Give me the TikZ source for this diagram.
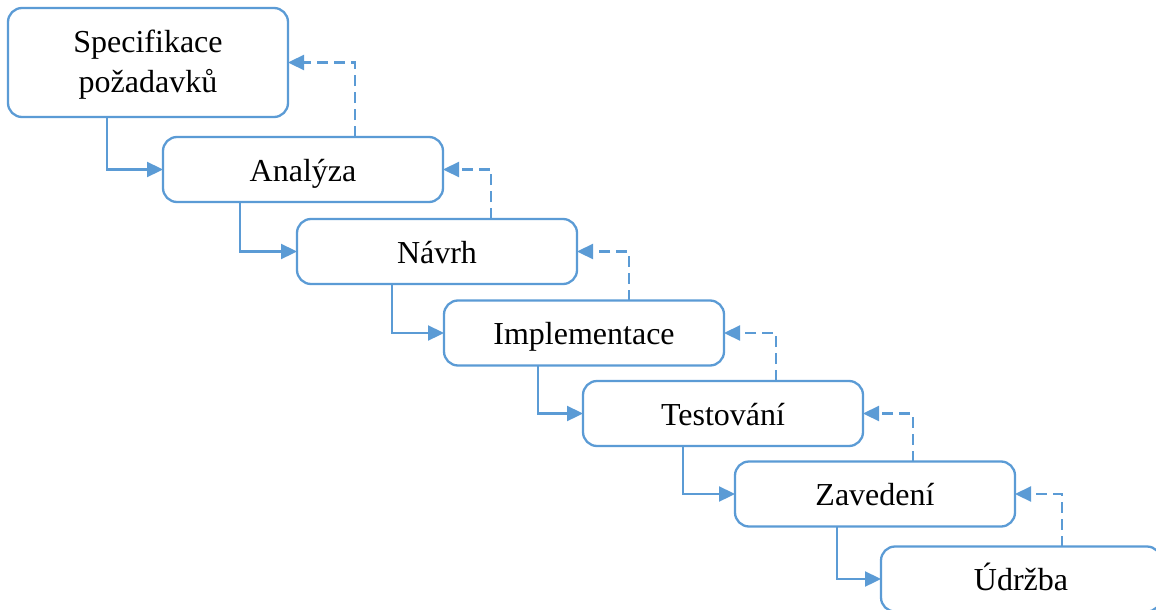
\documentclass[tikz,border=0pt]{standalone}
\usepackage{fontspec}
\setmainfont{Liberation Serif}
\usetikzlibrary{arrows.meta}
\definecolor{phaseblue}{RGB}{91,155,213}
\begin{document}
\begin{tikzpicture}[x=1pt,y=-1pt,
  phase/.style={draw=phaseblue, line width=2.3pt, rounded corners=14pt, fill=white,
    minimum width=280pt, minimum height=65pt, inner sep=0pt, outer sep=0pt,
    text height=26pt, text depth=3pt,
    align=center, font=\fontsize{32}{40}\selectfont},
  flow/.style={draw=phaseblue, line width=2.3pt, -{Triangle[length=16pt,width=15pt]}},
  back/.style={flow, dash pattern=on 11pt off 6pt}]
\useasboundingbox (0,0) rectangle (1156,610);
\clip (0,0) rectangle (1156,610);

% phases of the waterfall
\node[phase, minimum height=109pt, text height=63pt] (b1) at (148,62.5) {Specifikace\\požadavků};
\node[phase] (b2) at (303,169.5) {Analýza};
\node[phase] (b3) at (437,251.5) {Návrh};
\node[phase] (b4) at (584,333) {Implementace};
\node[phase] (b5) at (723,413.5) {Testování};
\node[phase] (b6) at (875,494) {Zavedení};
\node[phase] (b7) at (1021,579) {Údržba};

% x positions of the forward connectors
\coordinate (f1) at (107,0);
\coordinate (f2) at (240,0);
\coordinate (f3) at (392,0);
\coordinate (f4) at (538,0);
\coordinate (f5) at (683,0);
\coordinate (f6) at (837,0);

% x positions of the feedback connectors
\coordinate (r2) at (355,0);
\coordinate (r3) at (491,0);
\coordinate (r4) at (629,0);
\coordinate (r5) at (776,0);
\coordinate (r6) at (913,0);
\coordinate (r7) at (1062,0);

% forward steps
\draw[flow] (b1.south -| f1) |- (b2.west);
\draw[flow] (b2.south -| f2) |- (b3.west);
\draw[flow] (b3.south -| f3) |- (b4.west);
\draw[flow] (b4.south -| f4) |- (b5.west);
\draw[flow] (b5.south -| f5) |- (b6.west);
\draw[flow] (b6.south -| f6) |- (b7.west);

% feedback to the previous phase
\draw[back] (b2.north -| r2) |- (b1.east);
\draw[back] (b3.north -| r3) |- (b2.east);
\draw[back] (b4.north -| r4) |- (b3.east);
\draw[back] (b5.north -| r5) |- (b4.east);
\draw[back] (b6.north -| r6) |- (b5.east);
\draw[back] (b7.north -| r7) |- (b6.east);
\end{tikzpicture}
\end{document}
